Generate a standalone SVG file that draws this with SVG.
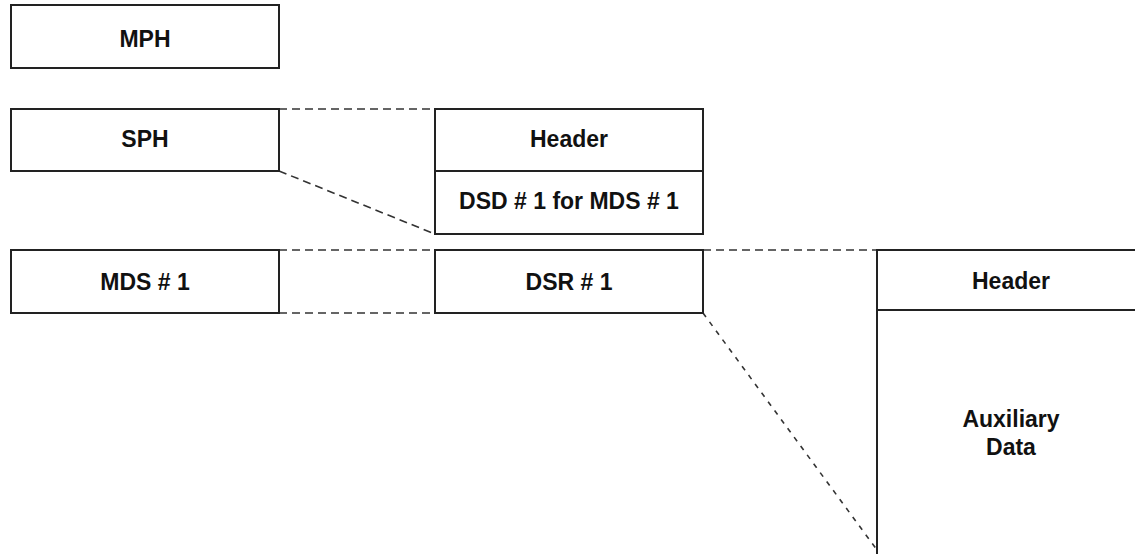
<svg xmlns="http://www.w3.org/2000/svg" width="1135" height="554" viewBox="0 0 1135 554">
<style>
.box{fill:#fff;stroke:#222;stroke-width:2}
.t{font-family:"Liberation Sans",Arial,sans-serif;font-weight:bold;font-size:23px;fill:#111;text-anchor:middle}
.d{fill:none;stroke:#333;stroke-width:1.6;stroke-dasharray:8,5}
.d2{fill:none;stroke:#333;stroke-width:1.6;stroke-dasharray:5,6}
</style>
<rect width="1135" height="554" fill="#fff"/>
<g id="connectors">
<line class="d" x1="279" y1="109" x2="435" y2="109"/>
<line class="d" x1="279" y1="171" x2="435" y2="234"/>
<line class="d" x1="279" y1="250" x2="435" y2="250"/>
<line class="d" x1="279" y1="313" x2="435" y2="313"/>
<line class="d" x1="703" y1="250" x2="877" y2="250"/>
<line class="d2" x1="703" y1="313" x2="877" y2="550"/>
</g>
<g id="mph">
<rect class="box" x="11" y="5" width="268" height="63"/>
<text class="t" x="145" y="47">MPH</text>
</g>
<g id="sph">
<rect class="box" x="11" y="109" width="268" height="62"/>
<text class="t" x="145" y="147">SPH</text>
</g>
<g id="dsd">
<rect class="box" x="435" y="109" width="268" height="125"/>
<line class="box" x1="435" y1="171" x2="703" y2="171"/>
<text class="t" x="569" y="147">Header</text>
<text class="t" x="569" y="209">DSD # 1 for MDS # 1</text>
</g>
<g id="mds">
<rect class="box" x="11" y="250" width="268" height="63"/>
<text class="t" x="145" y="290">MDS # 1</text>
</g>
<g id="dsr">
<rect class="box" x="435" y="250" width="268" height="63"/>
<text class="t" x="569" y="290">DSR # 1</text>
</g>
<g id="aux">
<rect class="box" x="877" y="250" width="268" height="320"/>
<line class="box" x1="877" y1="310" x2="1145" y2="310"/>
<text class="t" x="1011" y="289">Header</text>
<text class="t" x="1011" y="427">Auxiliary</text>
<text class="t" x="1011" y="455">Data</text>
</g>
</svg>
